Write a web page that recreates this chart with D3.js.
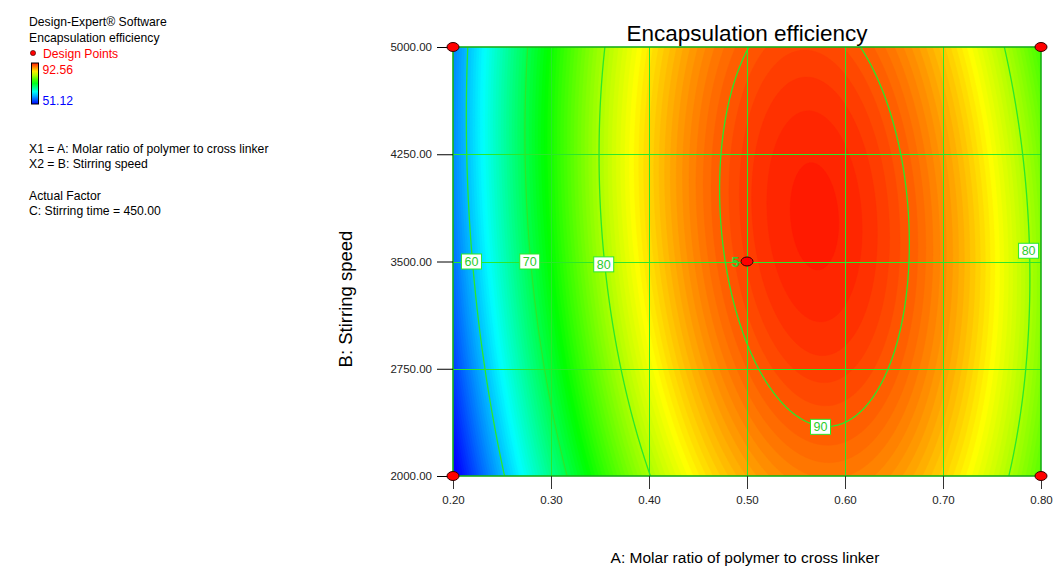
<!DOCTYPE html>
<html>
<head>
<meta charset="utf-8">
<script src="https://cdn.jsdelivr.net/npm/d3@7"></script>
<style>
  body { margin: 0; background: #fff; }
  svg { font-family: Arial, "Liberation Sans", sans-serif; }
</style>
</head>
<body>
<div id="chart"></div>
<script>
// Axis ticks (actual units)
const xTicks = [0.20, 0.30, 0.40, 0.50, 0.60, 0.70, 0.80];
const yTicks = [2000, 2750, 3500, 4250, 5000];

// Coded quadratic model: Y = b0 + bA*A + bB*B + bAB*AB + bAA*A^2 + bBB*B^2
const modelTerms = ['Intercept', 'A', 'B', 'AB', 'A^2', 'B^2'];
const modelCoefs = [91.00, 11.05, 1.51, -2.00, -23.5, -2.55];

// Colour legend range (observed response) and colour ramp anchors
const respMin = 51.12;
const respMax = 92.56;
const rampValues = [51.12, 63, 73, 83.5, 93.5];
const rampColors = ['#0000ff', '#00ffff', '#00ff00', '#ffff00', '#ff0000'];

// Contour levels and their labels
const contourLevels = [60, 70, 80, 90];
const labelLevels = [60, 70, 80, 80, 90];
const labelB = [3500, 3500, 3480, 3575, null];
const labelA = [null, null, null, null, 0.575];
const labelSide = ['left', 'left', 'left', 'right', 'low'];

// Design points
const pointA = [0.2, 0.8, 0.2, 0.8, 0.5];
const pointB = [5000, 5000, 2000, 2000, 3500];
const pointReps = [1, 1, 1, 1, 5];

// Left-hand info panel
const infoLines = ['Design-Expert® Software', 'Encapsulation efficiency'];
const factorLines = ['X1 = A: Molar ratio of polymer to cross linker', 'X2 = B: Stirring speed'];
const actualLines = ['Actual Factor', 'C: Stirring time = 450.00'];

const width = 1057, height = 567;
const plot = {left: 453, right: 1041, top: 47, bottom: 476};
const green = '#2ae82a';

const svg = d3.select('#chart').append('svg')
  .attr('width', width)
  .attr('height', height);

const xScale = d3.scaleLinear().domain([0.2, 0.8]).range([plot.left, plot.right]);
const yScale = d3.scaleLinear().domain([2000, 5000]).range([plot.bottom, plot.top]);

const colorScale = d3.scaleLinear()
  .domain(rampValues)
  .range(rampColors)
  .clamp(true);

// model in coded units
const [c0, cA, cB, cAB, cAA, cBB] = modelCoefs;
function model(A, B) {
  const a = (A - 0.5) / 0.3, b = (B - 3500) / 1500;
  return c0 + cA * a + cB * b + cAB * a * b + cAA * a * a + cBB * b * b;
}

// grid of predicted values
const nx = 320, ny = 320;
const A0 = 0.19, A1 = 0.81, B0 = 1950, B1 = 5050;
const dA = (A1 - A0) / (nx - 1), dB = (B1 - B0) / (ny - 1);
const values = new Array(nx * ny);
for (let j = 0; j < ny; j++) {
  for (let i = 0; i < nx; i++) {
    values[j * nx + i] = model(A0 + i * dA, B0 + j * dB);
  }
}

const proj = d3.geoTransform({
  point(x, y) { this.stream.point(xScale(A0 + x * dA), yScale(B0 + y * dB)); }
});
const path = d3.geoPath(proj);

const defs = svg.append('defs');
defs.append('clipPath').attr('id', 'plot-clip')
  .append('rect')
  .attr('x', plot.left).attr('y', plot.top)
  .attr('width', plot.right - plot.left).attr('height', plot.bottom - plot.top);

const chart = svg.append('g').attr('clip-path', 'url(#plot-clip)');

// filled bands
chart.append('rect')
  .attr('x', plot.left).attr('y', plot.top)
  .attr('width', plot.right - plot.left).attr('height', plot.bottom - plot.top)
  .attr('fill', colorScale(respMin));

const bandSteps = d3.range(45, 93, 0.45);
const bands = d3.contours().size([nx, ny]).thresholds(bandSteps)(values);
chart.selectAll('.band')
  .data(bands)
  .join('path')
  .attr('class', 'band')
  .attr('d', path)
  .attr('fill', d => colorScale(d.value + 0.22))
  .attr('stroke', d => colorScale(d.value + 0.22))
  .attr('stroke-width', 0.4);

// grid lines
const grid = svg.append('g').attr('shape-rendering', 'crispEdges');
grid.selectAll('.vgrid')
  .data(xTicks.slice(1, -1))
  .join('line')
  .attr('x1', d => Math.round(xScale(d)) + 0.5).attr('x2', d => Math.round(xScale(d)) + 0.5)
  .attr('y1', plot.top).attr('y2', plot.bottom)
  .attr('stroke', green).attr('stroke-width', 1);
grid.selectAll('.hgrid')
  .data(yTicks.slice(1, -1))
  .join('line')
  .attr('x1', plot.left).attr('x2', plot.right)
  .attr('y1', d => Math.round(yScale(d)) + 0.5).attr('y2', d => Math.round(yScale(d)) + 0.5)
  .attr('stroke', green).attr('stroke-width', 1);

// contour lines
const lines = d3.contours().size([nx, ny]).thresholds(contourLevels)(values);
chart.selectAll('.cline')
  .data(lines)
  .join('path')
  .attr('class', 'cline')
  .attr('d', path)
  .attr('fill', 'none')
  .attr('stroke', green)
  .attr('stroke-width', 1.3);

// border
svg.append('rect')
  .attr('x', plot.left).attr('y', plot.top)
  .attr('width', plot.right - plot.left).attr('height', plot.bottom - plot.top)
  .attr('fill', 'none')
  .attr('stroke', '#18b018')
  .attr('stroke-width', 1.6);

// solve the model for contour label positions
function roots(qa, qb, qc) {
  const s = Math.sqrt(qb * qb - 4 * qa * qc);
  return [(-qb + s) / (2 * qa), (-qb - s) / (2 * qa)].sort((p, q) => p - q);
}
function solveA(level, B, side) {
  const b = (B - 3500) / 1500;
  const r = roots(cAA, cA + cAB * b, c0 + cB * b + cBB * b * b - level);
  return 0.5 + 0.3 * (side === 'left' ? r[0] : r[1]);
}
function solveB(level, A, side) {
  const a = (A - 0.5) / 0.3;
  const r = roots(cBB, cB + cAB * a, c0 + cA * a + cAA * a * a - level);
  return 3500 + 1500 * (side === 'low' ? r[0] : r[1]);
}
const labels = labelLevels.map((lv, i) => {
  const A = labelA[i] == null ? solveA(lv, labelB[i], labelSide[i]) : labelA[i];
  const B = labelB[i] == null ? solveB(lv, labelA[i], labelSide[i]) : labelB[i];
  return {level: lv, A, B};
});

const lab = svg.selectAll('.clabel')
  .data(labels)
  .join('g')
  .attr('class', 'clabel')
  .attr('transform', d => `translate(${xScale(d.A)},${yScale(d.B)})`);
lab.append('rect')
  .attr('x', -10).attr('y', -7.5)
  .attr('width', 20).attr('height', 15)
  .attr('fill', '#fff')
  .attr('stroke', green).attr('stroke-width', 1);
lab.append('text')
  .attr('text-anchor', 'middle')
  .attr('dy', '0.36em')
  .attr('font-size', 12.5)
  .attr('fill', '#2ccc2c')
  .text(d => d.level);

// axes
const yAxis = d3.axisLeft(yScale).tickValues(yTicks).tickSize(16).tickPadding(5)
  .tickFormat(d3.format('.2f'));
const xAxis = d3.axisBottom(xScale).tickValues(xTicks).tickSize(13).tickPadding(7)
  .tickFormat(d3.format('.2f'));

svg.append('g')
  .attr('transform', `translate(${plot.left},0)`)
  .call(yAxis)
  .call(g => g.select('.domain').remove())
  .call(g => g.selectAll('text').attr('font-size', 11.5).attr('fill', '#222').attr('font-family', 'Arial, "Liberation Sans", sans-serif'))
  .call(g => g.selectAll('line').attr('stroke', '#000'));

svg.append('g')
  .attr('transform', `translate(0,${plot.bottom})`)
  .call(xAxis)
  .call(g => g.select('.domain').remove())
  .call(g => g.selectAll('text').attr('font-size', 11.5).attr('fill', '#222').attr('font-family', 'Arial, "Liberation Sans", sans-serif'))
  .call(g => g.selectAll('line').attr('stroke', '#333'));

// titles
svg.append('text')
  .attr('x', (plot.left + plot.right) / 2).attr('y', 41)
  .attr('text-anchor', 'middle')
  .attr('font-size', 22.5)
  .text('Encapsulation efficiency');

svg.append('text')
  .attr('x', 745).attr('y', 563)
  .attr('text-anchor', 'middle')
  .attr('font-size', 15.5)
  .text('A: Molar ratio of polymer to cross linker');

svg.append('text')
  .attr('transform', `translate(352,299) rotate(-90)`)
  .attr('text-anchor', 'middle')
  .attr('font-size', 18.5)
  .text('B: Stirring speed');

// design points
const pts = pointA.map((a, i) => ({A: a, B: pointB[i], n: pointReps[i]}));
svg.selectAll('.dpoint')
  .data(pts)
  .join('ellipse')
  .attr('class', 'dpoint')
  .attr('cx', d => xScale(d.A))
  .attr('cy', d => yScale(d.B))
  .attr('rx', 6).attr('ry', 4.5)
  .attr('fill', '#ff0000')
  .attr('stroke', '#300')
  .attr('stroke-width', 1);

svg.append('g').selectAll('text')
  .data(pts.filter(d => d.n > 1))
  .join('text')
  .attr('x', d => xScale(d.A) - 8)
  .attr('y', d => yScale(d.B) + 5)
  .attr('text-anchor', 'end')
  .attr('font-size', 14)
  .attr('font-weight', 'bold')
  .attr('fill', '#33cc33')
  .text(d => d.n);

// left info panel
const info = svg.append('g').attr('font-size', 12.2);
info.selectAll('.info')
  .data(infoLines)
  .join('text')
  .attr('x', 29).attr('y', (d, i) => 26 + i * 15.5)
  .text(d => d);

info.append('circle').attr('cx', 33).attr('cy', 53).attr('r', 2.6)
  .attr('fill', '#ff0000').attr('stroke', '#300').attr('stroke-width', 0.6);
info.append('text').attr('x', 43).attr('y', 57.5).attr('fill', '#ff0000').text('Design Points');

const grad = defs.append('linearGradient')
  .attr('id', 'legend-grad').attr('x1', 0).attr('x2', 0).attr('y1', 1).attr('y2', 0);
grad.selectAll('stop')
  .data(d3.range(0, 1.001, 0.1).map(t => respMin + t * (respMax - respMin)))
  .join('stop')
  .attr('offset', d => (d - respMin) / (respMax - respMin))
  .attr('stop-color', d => colorScale(d));
info.append('rect').attr('x', 31.5).attr('y', 63).attr('width', 7).attr('height', 41)
  .attr('fill', 'url(#legend-grad)').attr('stroke', '#000').attr('stroke-width', 1);
info.append('text').attr('x', 42.5).attr('y', 73.5).attr('fill', '#ff0000').text(respMax.toFixed(2));
info.append('text').attr('x', 42.5).attr('y', 104.5).attr('fill', '#0000ff').text(respMin.toFixed(2));

info.selectAll('.factor')
  .data(factorLines)
  .join('text')
  .attr('x', 29).attr('y', (d, i) => 152.5 + i * 15)
  .text(d => d);

info.selectAll('.actual')
  .data(actualLines)
  .join('text')
  .attr('x', 29).attr('y', (d, i) => 199.5 + i * 15.5)
  .text(d => d);
</script>
</body>
</html>
